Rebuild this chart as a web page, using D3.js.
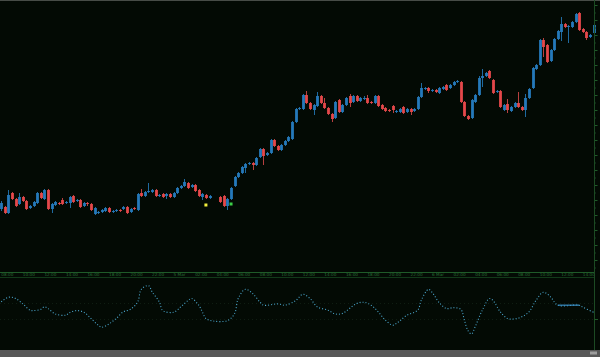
<!DOCTYPE html>
<html>
<head>
<meta charset="utf-8">
<script src="https://cdn.jsdelivr.net/npm/d3@7"></script>
<style>
  html, body { margin: 0; padding: 0; background: #030a04; overflow: hidden; }
</style>
</head>
<body>
<div class="main"></div>
<script>
const w = 600;
const h = 357;

// candle data (price units), one entry per bar
const opens = [63,65,59,79,73,68,75,71,64,66,69,79,73,82,63,67,69,72,69,69,76,71,72,66,69,68,58,59,60,61,64,60,61,62,63,65,60,64,62,79,76,80,80,82,76,78,76,78,75,79,84,86,89,85,87,82,75,77,74,
  75,76,66,73,86,95,99,104,108,109,107,115,123,117,119,132,126,122,127,131,133,150,163,163,177,169,162,166,176,169,164,158,154,172,160,167,176,170,176,171,173,174,170,169,176,167,164,162,166,160,160,165,160,163,161,163,175,183,184,181,182,179,183,187,184,187,190,190,170,156,154,170,177,194,196,201,192,180,181,162,168,161,165,169,165,162,174,184,203,207,232,227,211,222,233,240,248,245,245,250,259,243,240,235,239];
const highs = [71,66,82,80,74,79,76,72,67,71,80,80,83,83,69,71,70,74,71,76,77,73,73,70,70,69,65,61,63,65,65,62,63,63,66,66,64,65,79,83,81,89,83,83,78,79,79,79,80,85,87,93,90,88,88,83,79,78,77,
  76,77,74,85,96,100,106,109,110,110,115,124,124,120,133,133,127,128,132,136,151,164,165,178,181,170,168,180,177,174,165,159,171,173,168,175,178,177,177,175,176,177,171,177,177,168,165,163,167,162,164,166,164,164,164,176,189,185,185,183,183,185,186,188,188,191,192,191,171,157,173,178,196,203,200,202,193,182,182,168,173,166,170,180,166,178,184,205,208,233,234,228,223,234,242,255,249,247,251,259,260,244,241,238,252];
const lows = [61,58,58,72,65,67,70,62,63,65,68,73,72,62,59,66,67,67,68,64,69,70,64,65,66,61,57,58,59,60,59,59,60,60,62,58,59,62,61,75,75,79,79,75,75,74,73,74,74,78,83,85,83,84,80,75,72,73,73,
  69,65,62,72,85,94,98,99,107,102,106,114,107,116,118,125,121,121,126,130,132,149,162,162,168,162,157,165,168,163,157,150,153,159,159,166,165,169,170,170,172,168,168,168,165,162,160,160,159,159,159,158,159,157,160,162,174,182,179,180,179,178,182,181,183,186,189,169,155,152,153,169,176,185,195,193,178,179,164,161,159,160,164,164,161,155,173,183,202,206,215,209,210,221,232,231,244,229,244,249,241,239,232,234,238];
const closes = [69,59,77,73,66,75,71,63,66,70,79,74,82,63,68,70,68,68,70,75,70,72,65,69,68,62,64,60,62,64,60,61,62,61,65,59,63,63,78,76,80,81,82,76,77,75,78,75,79,84,86,90,84,87,81,76,78,74,76,
  70,66,73,84,95,99,105,108,109,107,114,123,116,119,132,126,122,127,131,135,150,163,164,177,169,163,167,176,169,164,158,153,170,160,167,174,169,176,171,174,174,169,169,176,166,163,161,161,162,161,163,159,163,160,163,175,184,184,181,182,180,184,185,182,187,190,191,170,156,153,172,177,194,196,199,194,179,181,165,167,162,165,169,165,162,174,183,204,207,232,225,210,222,233,241,248,245,246,250,258,242,240,234,237,247];
// bar slots (two empty slots after bar 58)
const barIndex = d3.range(59).concat(d3.range(61, 166));

// trade markers
const markerBars = [57, 64];
const markerPrices = [67, 68];
const markerColors = ['#f2ee3c', '#3ccf48'];

// oscillator (lower pane)
const oscBars = [0,2,4,6,8,9,11,12,13,15,18,19,21,23,25,27,28,30,32,34,36,38,39,41,42,44,45,48,50,52,53,55,56,57,59,63,65,66,68,70,72,73,77,79,82,84,86,88,91,93,95,97,99,101,103,105,107,109,110,111,113,116,117,119,120,122,124,126,128,129,130,131,132,134,136,137,139,141,143,145,147,149,151,153,155,161,162,165];
const oscValues = [22,33,30,17,2,1,4,10,6,-7,-10,-4,1,-3,-18,-34,-39,-31,-18,-2,4,22,52,61,46,22,1,-3,10,25,30,14,-2,-18,-24,-23,-6,30,52,42,22,14,17,14,25,40,30,10,2,-7,-6,6,18,21,14,-2,-22,-34,-30,-24,-10,2,26,52,45,20,6,8,4,-22,-47,-55,-38,2,30,25,-2,-18,-19,-14,-2,26,45,34,14,14,9,-3];
const oscFlatBars = [155, 161];
const oscFlatValue = 14;
const oscGrid = [20, -20];

const priceTicks = d3.range(12, 272, 15);
const priceMinorTicks = d3.range(4.5, 272, 15);
const timeBars = d3.range(0, 163, 6);
const timeLabels = ['08:00','10:00','12:00','14:00','16:00','18:00','20:00','22:00','5 Mar','02:00','04:00','06:00','08:00','10:00',
  '12:00','14:00','16:00','18:00','20:00','22:00','6 Mar','02:00','04:00','06:00','08:00','10:00','12:00','14:00'];

const svg = d3.select('.main').append('svg').attr('width', w).attr('height', h)
  .style('display', 'block');

svg.append('rect').attr('width', w).attr('height', h).attr('fill', '#030a04');

const x = d3.scaleLinear().domain([0, 165]).range([1.3, 593.6]);
const y = d3.scaleLinear().domain([0, 271]).range([272, 1]);
const yOsc = d3.scaleLinear().domain([-100, 100]).range([352.7, 269.3]);

// frame
svg.append('line').attr('x1', 0).attr('x2', w).attr('y1', 0.5).attr('y2', 0.5)
  .attr('stroke', '#474c47');
svg.append('line').attr('x1', 0).attr('x2', 594).attr('y1', 272.5).attr('y2', 272.5)
  .attr('stroke', '#1f5a29');
svg.append('line').attr('x1', 0).attr('x2', 594).attr('y1', 277.5).attr('y2', 277.5)
  .attr('stroke', '#123a1a');

// time labels
svg.append('g').selectAll('text')
  .data(timeBars)
  .enter()
  .append('text')
  .attr('x', (d) => x(d))
  .attr('y', 276.4)
  .attr('fill', '#2a6e34')
  .attr('font-family', 'DejaVu Sans')
  .attr('font-size', 4.2)
  .text((d, i) => timeLabels[i]);

// candles
const g = svg.append('g').attr('class', 'candles');
const bars = d3.range(opens.length);

g.selectAll('line.wick')
  .data(bars)
  .enter()
  .append('line')
  .attr('class', 'wick')
  .attr('x1', (i) => Math.round(x(barIndex[i])) + 0.5)
  .attr('x2', (i) => Math.round(x(barIndex[i])) + 0.5)
  .attr('y1', (i) => y(highs[i]))
  .attr('y2', (i) => y(lows[i]))
  .attr('stroke', (i) => (closes[i] >= opens[i] ? '#1f6aa0' : '#b8403f'))
  .attr('stroke-width', 1);

g.selectAll('rect.body')
  .data(bars)
  .enter()
  .append('rect')
  .attr('class', 'body')
  .attr('x', (i) => Math.round(x(barIndex[i])) + 0.5 - 1.4)
  .attr('width', 2.8)
  .attr('y', (i) => y(Math.max(opens[i], closes[i])))
  .attr('height', (i) => Math.max(1, Math.abs(y(opens[i]) - y(closes[i]))))
  .attr('fill', (i) => (closes[i] >= opens[i] ? '#2579bb' : '#e5484b'));

// markers
svg.append('g').selectAll('rect')
  .data(markerBars)
  .enter()
  .append('rect')
  .attr('x', (d) => x(d) - 1.5)
  .attr('y', (d, i) => y(markerPrices[i]) - 1.5)
  .attr('width', 3)
  .attr('height', 3)
  .attr('fill', (d, i) => markerColors[i]);

// right price axis
const axis = svg.append('g').attr('transform', 'translate(594.5,0)')
  .call(d3.axisRight(y).tickValues(priceTicks).tickSize(3).tickFormat(''));
axis.select('.domain').remove();
axis.selectAll('line').attr('stroke', '#1f5a29');
const minor = svg.append('g').attr('transform', 'translate(594.5,0)')
  .call(d3.axisRight(y).tickValues(priceMinorTicks).tickSize(1.5).tickFormat(''));
minor.select('.domain').remove();
minor.selectAll('line').attr('stroke', '#173f1e');

svg.append('line').attr('x1', 594.5).attr('x2', 594.5).attr('y1', 0).attr('y2', 350)
  .attr('stroke', '#1c4a23');

// oscillator pane
const oscG = svg.append('g');
oscG.selectAll('line.grid')
  .data(oscGrid)
  .enter()
  .append('line')
  .attr('x1', 0)
  .attr('x2', 594)
  .attr('y1', (d) => Math.round(yOsc(d)) + 0.5)
  .attr('y2', (d) => Math.round(yOsc(d)) + 0.5)
  .attr('stroke', '#0f1d12')
  .attr('stroke-dasharray', '1,3');

const oscLine = d3.line()
  .x((d) => x(d))
  .y((d, i) => yOsc(oscValues[i]))
  .curve(d3.curveCatmullRom);

oscG.append('path')
  .attr('d', oscLine(oscBars))
  .attr('fill', 'none')
  .attr('stroke', '#4ca9d0')
  .attr('stroke-width', 1.1)
  .attr('stroke-dasharray', '1,2');

oscG.append('line')
  .attr('x1', x(oscFlatBars[0]))
  .attr('x2', x(oscFlatBars[1]))
  .attr('y1', yOsc(oscFlatValue))
  .attr('y2', yOsc(oscFlatValue))
  .attr('stroke', '#3a8fc6')
  .attr('stroke-width', 1.2);

svg.append('line').attr('x1', 594.5).attr('x2', 598).attr('y1', Math.round(yOsc(-20)) + 0.5)
  .attr('y2', Math.round(yOsc(-20)) + 0.5).attr('stroke', '#1f5a29');

// bottom scroll bar
svg.append('rect').attr('x', 0).attr('y', 350).attr('width', w).attr('height', 7)
  .attr('fill', '#585858');
svg.append('rect').attr('x', 590).attr('y', 351.5).attr('width', 7).attr('height', 3)
  .attr('fill', '#9d9d9d');
</script>
</body>
</html>
